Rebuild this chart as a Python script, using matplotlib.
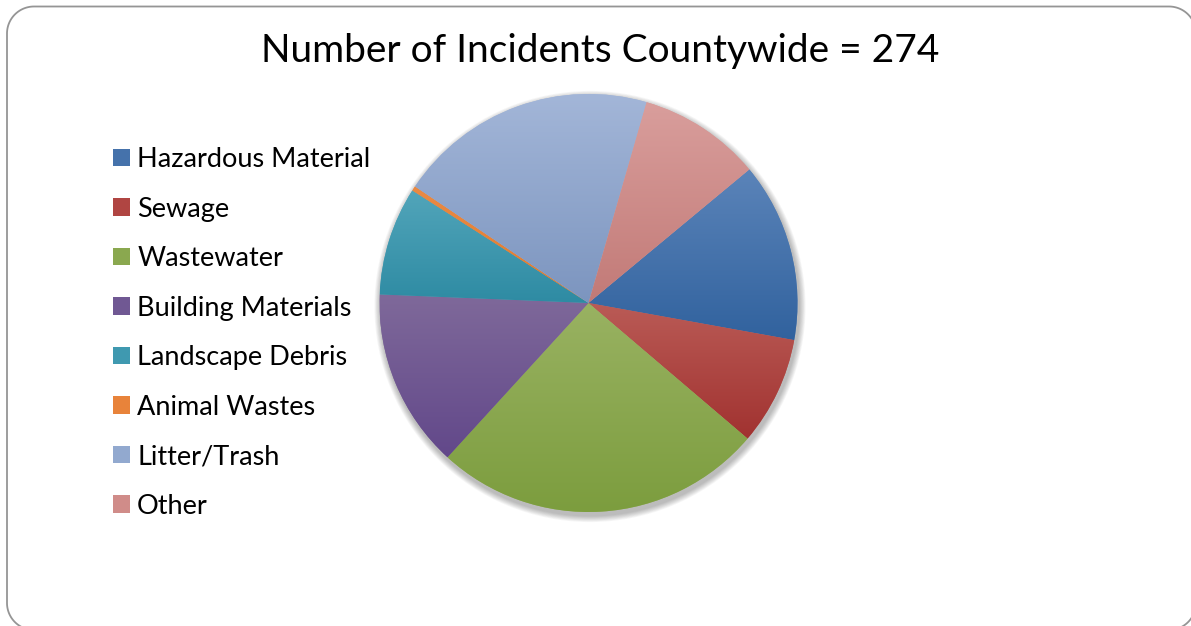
import numpy as np
import matplotlib.pyplot as plt
from matplotlib.colors import LinearSegmentedColormap
from matplotlib.patches import Circle, Patch

plt.rcParams['font.family'] = ['Lato', 'DejaVu Sans']

categories = ["Hazardous Material", "Sewage", "Wastewater", "Building Materials",
              "Landscape Debris", "Animal Wastes", "Litter/Trash", "Other"]
counts = [38, 23, 70, 38, 23, 1, 55, 26]
title = "Number of Incidents Countywide = 274"

# gradient colours per slice: light at top, dark at bottom
tops = ["#5B84B9", "#BA5B56", "#99B262", "#7F699A", "#52A5BA", "#EA8A44", "#A3B6D8", "#D99E9C"]
bottoms = ["#31629E", "#A13230", "#7C9D3E", "#62488A", "#2E8BA3", "#E07A2C", "#7C95BF", "#C27A77"]
legend_cols = ["#4572AB", "#B04542", "#8AA84F", "#705893", "#3F99B0", "#E8833A", "#92A9CF", "#D08C89"]

W, H = 1191, 626
fig = plt.figure(figsize=(W / 100, H / 100), dpi=100)
ax = fig.add_axes([0, 0, 1, 1])

cx, cy, r = 588.5, 323, 209

# soft shadow
for k in range(8):
    ax.add_patch(Circle((cx + 1.5, cy - 3.5), r + 1 + k * 0.8, facecolor="black",
                        alpha=0.035, linewidth=0, zorder=1))

wedges, _ = ax.pie(counts, startangle=39.7, counterclock=False, center=(cx, cy),
                   radius=r, colors=tops, frame=True,
                   wedgeprops=dict(linewidth=0, zorder=2))

grad = np.linspace(0, 1, 256).reshape(-1, 1)
for w, c1, c2 in zip(wedges, tops, bottoms):
    t = np.radians(np.linspace(w.theta1, w.theta2, 100))
    ys = np.concatenate([[cy], cy + r * np.sin(t)])
    cmap = LinearSegmentedColormap.from_list("g", [c1, c2])
    im = ax.imshow(grad, cmap=cmap, extent=(cx - r, cx + r, ys.min(), ys.max()),
                   origin="upper", aspect="auto", zorder=3, interpolation="bilinear")
    im.set_clip_path(w)

# rounded frame; right and bottom edges sit just past the image
fl, fr, ft, fb, rad = 7, 1196, H - 6.5, H - 630, 27
corners = [(fr - rad, ft - rad, 0), (fl + rad, ft - rad, 90),
           (fl + rad, fb + rad, 180), (fr - rad, fb + rad, 270)]
fx, fy = [], []
for ccx, ccy, a0 in corners:
    a = np.radians(np.linspace(a0, a0 + 90, 30))
    fx.extend(ccx + rad * np.cos(a))
    fy.extend(ccy + rad * np.sin(a))
fx.append(fx[0])
fy.append(fy[0])
ax.plot(fx, fy, color="#959595", linewidth=1.3, zorder=5)

ax.text(600, H - 51, title, fontsize=28, ha="center", va="center", color="black")

handles = [Patch(facecolor=c, edgecolor="none") for c in legend_cols]
ax.legend(handles, categories, loc="upper left", bbox_to_anchor=(113 / W, 1 - 147 / H),
          frameon=False, fontsize=19.5, handlelength=0.63, handleheight=0.63,
          handletextpad=0.26, labelspacing=0.905, borderaxespad=0, borderpad=0)

ax.set_xlim(0, W)
ax.set_ylim(0, H)
ax.set_aspect("equal")
ax.axis("off")

fig.savefig("out.png", dpi=100, facecolor="white")
